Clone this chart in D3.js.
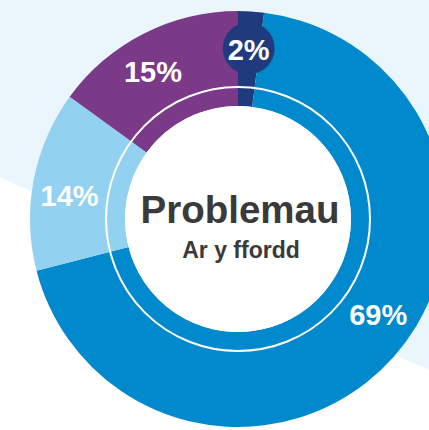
<!DOCTYPE html>
<html>
<head>
<meta charset="utf-8">
<script src="https://cdn.jsdelivr.net/npm/d3@7"></script>
<style>
  body { margin: 0; background: #fff; }
  svg { display: block; }
</style>
</head>
<body>
<svg id="chart"></svg>
<script>
// slices, clockwise from 12 o'clock
const categories = ['Navy', 'Blue', 'Light blue', 'Purple'];
const values = [2, 69, 14, 15];
const labels = ['2%', '69%', '14%', '15%'];
const colours = ['#1f3a7d', '#0089cc', '#92d1ef', '#7b3a88'];

const w = 429, h = 430;
const cx = 238, cy = 219;
const rInner = 113, rOuter = 208, rRing = 132, rLabel = 170;

const svg = d3.select('#chart')
  .attr('width', w)
  .attr('height', h)
  .attr('viewBox', [0, 0, w, h]);

// background: pale blue band above a diagonal
svg.append('rect').attr('width', w).attr('height', h).attr('fill', '#fff');
svg.append('path')
  .attr('d', `M0,0 L${w},0 L${w},370 L0,177 Z`)
  .attr('fill', '#eaf5fc');

const data = categories.map((c, i) => ({name: c, value: values[i], label: labels[i], colour: colours[i]}));

const pie = d3.pie()
  .sort(null)
  .value(d => d.value)
  .startAngle(0)
  .endAngle(2 * Math.PI);

const arcs = pie(data);

const arc = d3.arc().innerRadius(rInner).outerRadius(rOuter);

const g = svg.append('g').attr('transform', `translate(${cx},${cy})`);

g.selectAll('path.slice')
  .data(arcs)
  .enter()
  .append('path')
    .classed('slice', true)
    .attr('d', arc)
    .attr('fill', d => d.data.colour);

// white hole + thin white ring
g.append('circle').attr('r', rInner).attr('fill', '#fff');
g.append('circle')
  .attr('r', rRing)
  .attr('fill', 'none')
  .attr('stroke', '#fff')
  .attr('stroke-width', 2);

// label angle: slice middle, nudged a bit toward where the original sits them
function labelPos(d) {
  let a = (d.startAngle + d.endAngle) / 2;
  if (d.data.value > 50) a -= 7 * Math.PI / 180;
  else if (d.data.value > 5) a -= 3 * Math.PI / 180;
  return [rLabel * Math.sin(a), -rLabel * Math.cos(a)];
}

// the tiny slice gets a round bubble behind its label
const small = arcs.filter(d => d.data.value < 5);
g.selectAll('circle.bubble')
  .data(small)
  .enter()
  .append('circle')
    .classed('bubble', true)
    .attr('cx', d => labelPos(d)[0])
    .attr('cy', d => labelPos(d)[1] - 1)
    .attr('r', 26)
    .attr('fill', d => d.data.colour);

g.selectAll('text.pct')
  .data(arcs)
  .enter()
  .append('text')
    .classed('pct', true)
    .attr('x', d => labelPos(d)[0])
    .attr('y', d => labelPos(d)[1])
    .attr('dy', '0.35em')
    .attr('text-anchor', 'middle')
    .attr('font-family', '"Liberation Sans", Arial, sans-serif')
    .attr('font-weight', 'bold')
    .attr('font-size', 29)
    .attr('fill', '#fff')
    .text(d => d.data.label);

// centre title
g.append('text')
  .attr('x', 2)
  .attr('y', 4)
  .attr('text-anchor', 'middle')
  .attr('font-family', '"Liberation Sans", Arial, sans-serif')
  .attr('font-weight', 'bold')
  .attr('font-size', 38.5)
  .attr('fill', '#3a3a3a')
  .text('Problemau');

g.append('text')
  .attr('x', 3)
  .attr('y', 39)
  .attr('text-anchor', 'middle')
  .attr('font-family', '"Liberation Sans", Arial, sans-serif')
  .attr('font-weight', 'bold')
  .attr('font-size', 23)
  .attr('fill', '#3a3a3a')
  .text('Ar y ffordd');
</script>
</body>
</html>
